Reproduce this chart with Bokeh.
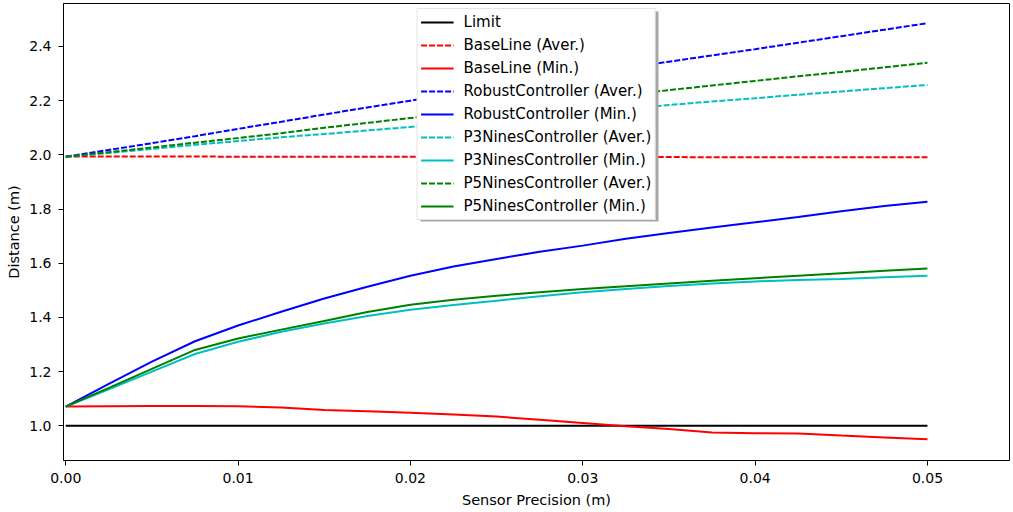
from bokeh.plotting import figure
from bokeh.models import Range1d, FixedTicker, PrintfTickFormatter, BoxAnnotation
from bokeh.embed import file_html
from bokeh.resources import INLINE

# Sensor precision (m)
precision = [0.0, 0.0025, 0.005, 0.0075, 0.01, 0.0125, 0.015, 0.0175, 0.02,
             0.0225, 0.025, 0.0275, 0.03, 0.0325, 0.035, 0.0375, 0.04,
             0.0425, 0.045, 0.0475, 0.05]

limit = [1.0] * len(precision)

baseline_aver = [1.994, 1.994, 1.994, 1.994, 1.993, 1.993, 1.993, 1.993, 1.993,
                 1.992, 1.992, 1.992, 1.992, 1.992, 1.992, 1.991, 1.991,
                 1.991, 1.991, 1.991, 1.991]
baseline_min = [1.071, 1.072, 1.073, 1.073, 1.072, 1.068, 1.058, 1.054, 1.048,
                1.042, 1.034, 1.022, 1.010, 0.998, 0.988, 0.975, 0.973,
                0.972, 0.964, 0.957, 0.950]

robust_aver = [1.993, 2.018, 2.043, 2.069, 2.096, 2.122, 2.149, 2.175, 2.200,
               2.225, 2.250, 2.274, 2.298, 2.321, 2.344, 2.367, 2.390,
               2.414, 2.438, 2.462, 2.486]
robust_min = [1.071, 1.155, 1.237, 1.312, 1.370, 1.421, 1.470, 1.513, 1.554,
              1.588, 1.616, 1.642, 1.665, 1.690, 1.712, 1.732, 1.751,
              1.771, 1.792, 1.811, 1.827]

p3_aver = [1.993, 2.007, 2.022, 2.037, 2.051, 2.065, 2.077, 2.090, 2.103,
           2.116, 2.129, 2.143, 2.157, 2.170, 2.184, 2.197, 2.209,
           2.222, 2.234, 2.246, 2.258]
p3_min = [1.071, 1.135, 1.200, 1.265, 1.310, 1.347, 1.378, 1.405, 1.428,
          1.446, 1.462, 1.478, 1.493, 1.505, 1.516, 1.525, 1.533,
          1.538, 1.542, 1.548, 1.554]

p5_aver = [1.993, 2.010, 2.027, 2.045, 2.062, 2.080, 2.100, 2.118, 2.136,
           2.153, 2.170, 2.187, 2.204, 2.221, 2.239, 2.256, 2.273,
           2.290, 2.306, 2.323, 2.340]
p5_min = [1.071, 1.140, 1.210, 1.280, 1.322, 1.355, 1.387, 1.420, 1.447,
          1.465, 1.480, 1.493, 1.505, 1.515, 1.525, 1.535, 1.545,
          1.554, 1.563, 1.572, 1.581]

x_ticks = [0.0, 0.01, 0.02, 0.03, 0.04, 0.05]
y_ticks = [1.0, 1.2, 1.4, 1.6, 1.8, 2.0, 2.2, 2.4]

FONT = "DejaVu Sans"

p = figure(width=1010, height=512, output_backend="svg", toolbar_location=None,
           x_range=Range1d(-0.00013, 0.05476), y_range=Range1d(0.872, 2.5586),
           min_border_left=63, min_border_right=1, min_border_top=3,
           min_border_bottom=52)

p.background_fill_color = "white"
p.border_fill_color = "white"
p.outline_line_color = "black"
p.outline_line_width = 1
p.xgrid.visible = False
p.ygrid.visible = False

for ax in (p.xaxis[0], p.yaxis[0]):
    ax.major_tick_in = 0
    ax.major_tick_out = 5
    ax.minor_tick_line_color = None
    ax.axis_line_color = "black"
    ax.major_tick_line_color = "black"
    ax.major_label_text_font = FONT
    ax.major_label_text_font_size = "14px"
    ax.major_label_text_color = "black"
    ax.axis_label_text_font = FONT
    ax.axis_label_text_font_size = "14.5px"
    ax.axis_label_text_font_style = "normal"
    ax.axis_label_text_color = "black"

p.xaxis.ticker = FixedTicker(ticks=x_ticks)
p.xaxis.formatter = PrintfTickFormatter(format="%.2f")
p.yaxis.ticker = FixedTicker(ticks=y_ticks)
p.yaxis.formatter = PrintfTickFormatter(format="%.1f")
p.xaxis.axis_label = "Sensor Precision (m)"
p.yaxis.axis_label = "Distance (m)"
p.xaxis.major_label_standoff = 7
p.yaxis.major_label_standoff = 7
p.xaxis.axis_label_standoff = 6
p.yaxis.axis_label_standoff = 4

DASH = "6 2"
LW = 2

series = [
    ("Limit", limit, "black", "solid"),
    ("BaseLine (Aver.)", baseline_aver, "#ff0000", DASH),
    ("BaseLine (Min.)", baseline_min, "#ff0000", "solid"),
    ("RobustController (Aver.)", robust_aver, "#0000ff", DASH),
    ("RobustController (Min.)", robust_min, "#0000ff", "solid"),
    ("P3NinesController (Aver.)", p3_aver, "#00bfbf", DASH),
    ("P3NinesController (Min.)", p3_min, "#00bfbf", "solid"),
    ("P5NinesController (Aver.)", p5_aver, "#008000", DASH),
    ("P5NinesController (Min.)", p5_min, "#008000", "solid"),
]

for name, ys, color, dash in series:
    p.line(precision, ys, line_color=color, line_width=LW, line_dash=dash,
           legend_label=name)

lg = p.legend[0]

# legend drop shadow, drawn before (behind) the legend
shadow = BoxAnnotation(left=420, right=658, top=11, bottom=221,
                       left_units="canvas", right_units="canvas",
                       top_units="canvas", bottom_units="canvas",
                       fill_color="#a6a6a6", fill_alpha=1, line_color=None)
p.center = [shadow] + [c for c in p.center]

lg.location = "top_center"
lg.margin = 5
lg.padding = 3
lg.spacing = 3
lg.glyph_width = 33
lg.glyph_height = 20
lg.label_height = 20
lg.label_standoff = 10
lg.label_text_font = FONT
lg.label_text_font_size = "15px"
lg.label_text_color = "black"
lg.border_line_color = "#cccccc"
lg.border_line_width = 1
lg.background_fill_color = "white"
lg.background_fill_alpha = 1

open("out.html", "w").write(file_html(p, INLINE))
